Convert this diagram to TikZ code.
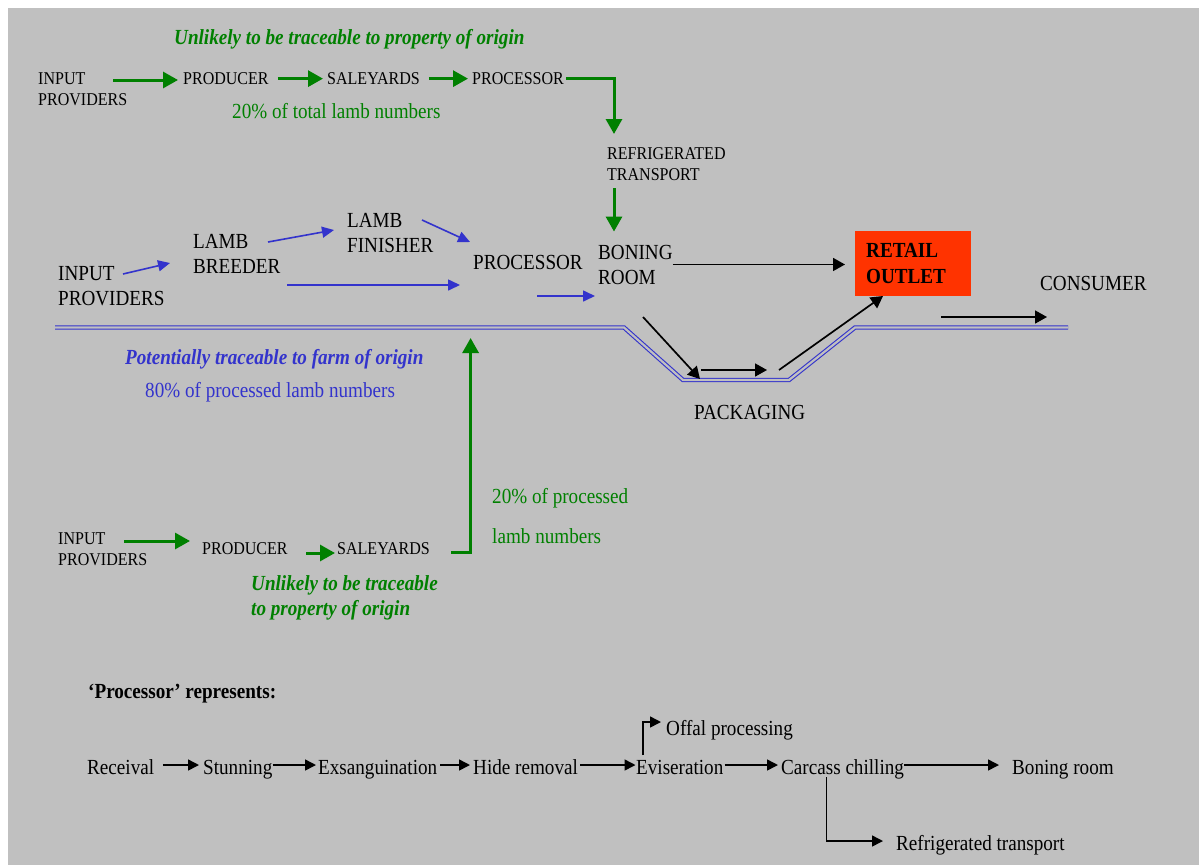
\documentclass[tikz,border=0pt]{standalone}
\usepackage{fontspec}
\setmainfont{Liberation Serif}[FakeStretch=0.89]
\usetikzlibrary{arrows.meta}
\definecolor{bggray}{RGB}{192,192,192}
\definecolor{chaingreen}{RGB}{0,128,0}
\definecolor{farmblue}{RGB}{51,51,204}
\definecolor{retailred}{RGB}{255,51,0}

\begin{document}
\begin{tikzpicture}[x=1pt, y=-1pt, every node/.style={inner sep=0pt, anchor=base west, align=left}]
		\tikzstyle{small} = [font=\fontsize{18}{21}\selectfont]
		\tikzstyle{big} = [font=\fontsize{21.5}{25}\selectfont]
		\tikzstyle{greennote} = [font=\fontsize{21.5}{25}\selectfont, text=chaingreen]
		\tikzstyle{greenbold} = [font=\fontsize{21.5}{25}\selectfont\bfseries\itshape, text=chaingreen]
		\tikzstyle{bluenote} = [font=\fontsize{21.5}{25}\selectfont, text=farmblue]
		\tikzstyle{bluebold} = [font=\fontsize{21.5}{25}\selectfont\bfseries\itshape, text=farmblue]
		\tikzstyle{stage} = [font=\fontsize{21.5}{25}\selectfont, text height=18pt, text depth=0pt]
		\tikzstyle{retail} = [fill=retailred, anchor=north west, text width=94pt, inner xsep=11pt, minimum height=65pt, font=\fontsize{21.5}{26}\selectfont\bfseries]
		\tikzstyle{greenarrow} = [color=chaingreen, line width=3pt, -{Triangle[length=15pt,width=16pt]}]
		\tikzstyle{bluearrow} = [color=farmblue, line width=1.6pt, -{Triangle[length=12pt,width=11pt]}]
		\tikzstyle{blackarrow} = [color=black, line width=1.7pt, -{Triangle[length=12pt,width=13pt]}]
		\tikzstyle{stagearrow} = [color=black, line width=1.5pt, -{Triangle[length=11pt,width=11pt]}]
		\tikzstyle{divide} = [draw=farmblue, line width=1.1pt, double=bggray, double distance=2.2pt]
		\useasboundingbox (0,0) rectangle (1199,865);
		\fill[bggray] (8,8) rectangle (1199,865);

		% top chain, via saleyards
		\node[greenbold](unlikelytop)at (174,44.5){Unlikely to be traceable to property of origin};
		\node[small](inputtop)at (38,105.5){INPUT\\PROVIDERS};
		\node[small](producertop)at (183,84.5){PRODUCER};
		\node[small](saleyardstop)at (327,84.5){SALEYARDS};
		\node[small](processortop)at (472,84.5){PROCESSOR};
		\node[greennote](sharetop)at (232,118){20\% of total lamb numbers};
		\node[small](transport)at (607,180){REFRIGERATED\\TRANSPORT};
		\coordinate (inputtopout) at (113,80);
		\coordinate (transportin) at (614,134);
		\coordinate (transportout) at (614,188);
		\draw[greenarrow,shorten >=5pt] (inputtopout) -- (inputtopout -| producertop.west);
		\path[greenarrow,shorten <=9pt,shorten >=4pt] (producertop) edge (saleyardstop)
		(saleyardstop) edge (processortop);
		\draw[greenarrow,shorten <=2pt] (processortop.east) -| (transportin);

		% middle chain, farm to retail
		\node[big](inputmid)at (58,305){INPUT\\PROVIDERS};
		\node[big](breeder)at (193,273){LAMB\\BREEDER};
		\node[big](finisher)at (347,252){LAMB\\FINISHER};
		\node[big](processor)at (473,269){PROCESSOR};
		\node[big](boning)at (598,284){BONING\\ROOM};
		\node[retail](retail)at (855,231){RETAIL\\OUTLET};
		\node[big](consumer)at (1040,290){CONSUMER};
		\node[big](packaging)at (694,419){PACKAGING};
		\node[bluebold](potential)at (125,364){Potentially traceable to farm of origin};
		\node[bluenote](sharemid)at (145,397){80\% of processed lamb numbers};
		\draw[greenarrow,shorten >=13pt] (transportout) -- (transportout |- boning.north);
		\coordinate (inputmidout) at (123,274);
		\coordinate (breederin) at (170,263);
		\coordinate (breederout) at (268,242);
		\coordinate (finisherin) at (334,230);
		\coordinate (finisherout) at (422,220);
		\coordinate (processorin) at (470,242);
		\coordinate (breederdirect) at (287,285);
		\coordinate (processordirect) at (460,285);
		\coordinate (processorout) at (537,296);
		\coordinate (boningin) at (595,296);
		\path[bluearrow] (inputmidout) edge (breederin)
		(breederout) edge (finisherin)
		(finisherout) edge (processorin)
		(breederdirect) edge (processordirect)
		(processorout) edge (boningin);
		\draw[divide] (55,327.5) -- (624,327.5) -- (683,380) -- (789,380) -- (855,327.5) -- (1068,327.5);
		\coordinate (boningdown) at (643,317);
		\coordinate (packin) at (700,379);
		\coordinate (packstart) at (701,370);
		\coordinate (packend) at (767,370);
		\coordinate (packout) at (779,370);
		\coordinate (retailin) at (883,296);
		\coordinate (retailout) at (941,317);
		\coordinate (consumerin) at (1047,317);
		\draw[blackarrow,shorten >=10pt] (boning.east) -- (boning.east -| retail.west);
		\path[blackarrow] (boningdown) edge (packin)
		(packstart) edge (packend)
		(packout) edge (retailin)
		(retailout) edge (consumerin);

		% bottom chain, via saleyards
		\node[small](inputbot)at (58,565){INPUT\\PROVIDERS};
		\node[small](producerbot)at (202,554){PRODUCER};
		\node[small](saleyardsbot)at (337,554){SALEYARDS};
		\node[greennote,font=\fontsize{21.5}{40}\selectfont](sharebot)at (492,543){20\% of processed\\lamb numbers};
		\node[greenbold](unlikelybot)at (251,615){Unlikely to be traceable\\to property of origin};
		\coordinate (inputbotout) at (124,541);
		\coordinate (producerbotout) at (306,553);
		\coordinate (saleyardsbotout) at (451,552);
		\coordinate (processorup) at (470.6,338);
		\draw[greenarrow,shorten >=12pt] (inputbotout) -- (inputbotout -| producerbot.west);
		\draw[greenarrow,shorten >=2pt] (producerbotout) -- (producerbotout -| saleyardsbot.west);
		\draw[greenarrow] (saleyardsbotout) -| (processorup);

		% what the processor stands for
		\node[big,font=\fontsize{21.5}{25}\selectfont\bfseries](represents)at (88,698){‘Processor’ represents:};
		\node[stage](receival)at (87,774){Receival};
		\node[stage](stunning)at (203,774){Stunning};
		\node[stage](exsanguination)at (318,774){Exsanguination};
		\node[stage](hide)at (473,774){Hide removal};
		\node[stage](eviseration)at (636,774){Eviseration};
		\node[stage](chilling)at (781,774){Carcass chilling};
		\node[stage](boningroom)at (1012,774){Boning room};
		\node[big](offal)at (666,735){Offal processing};
		\node[big](reftransport)at (896,850){Refrigerated transport};
		\path[stagearrow] (receival) edge[shorten <=8.5pt,shorten >=4pt] (stunning)
		(stunning) edge[shorten >=2pt] (exsanguination)
		(exsanguination) edge[shorten <=3pt,shorten >=3pt] (hide)
		(hide) edge[shorten <=2pt,shorten >=0.5pt] (eviseration)
		(eviseration) edge[shorten <=1pt,shorten >=3pt] (chilling)
		(chilling) edge[shorten >=13pt] (boningroom);
		\coordinate (offalbranch) at (643,755);
		\coordinate (offalin) at (661,722);
		\coordinate (chillbranch) at (826.5,777);
		\coordinate (transportin2) at (883,841);
		\draw[stagearrow] (offalbranch) |- (offalin);
		\draw[stagearrow] (chillbranch) |- (transportin2);
\end{tikzpicture}
\end{document}
